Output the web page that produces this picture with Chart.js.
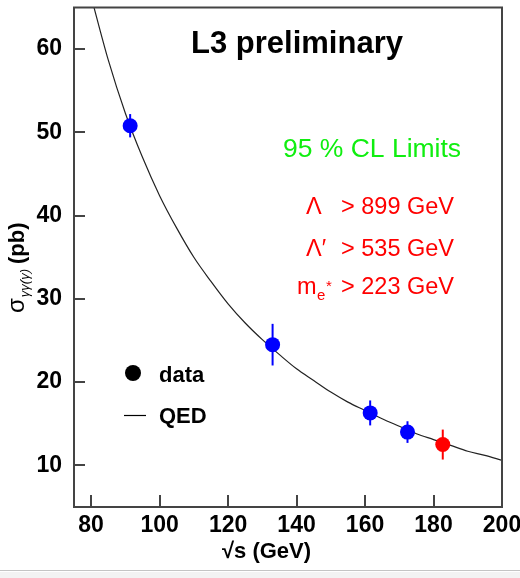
<!DOCTYPE html>
<html>
<head>
<meta charset="utf-8">
<script src="https://cdn.jsdelivr.net/npm/chart.js@4.4.1/dist/chart.umd.min.js"></script>
<style>
  html, body { margin: 0; padding: 0; background: #fff; }
</style>
</head>
<body>
<canvas id="xsec" width="520" height="578"></canvas>
<script>
// e+e- -> gamma gamma(gamma): sqrt(s) in GeV, cross section and error in pb
const energies    = [91.4, 133.0, 161.5, 172.4, 182.7];
const sigma       = [50.8, 24.5, 16.3, 14.0, 12.5];
const sigmaErr    = [1.4, 2.5, 1.5, 1.3, 1.8];
const pointColors = ["#0000ff", "#0000ff", "#0000ff", "#0000ff", "#ff0000"];

// QED expectation
const qedEnergy = [80, 85, 90, 95, 100, 105, 110, 115, 120, 125, 130, 135, 140,
                   145, 150, 155, 160, 165, 170, 175, 180, 185, 190, 195, 200];
const qedSigma  = [66.3, 58.7, 52.3, 47.0, 42.4, 38.5, 35.0, 32.1, 29.4, 27.1, 25.1, 23.3, 21.6,
                   20.2, 18.8, 17.6, 16.6, 15.6, 14.7, 13.8, 13.1, 12.4, 11.7, 11.2, 10.6];

const xTicks = [80, 100, 120, 140, 160, 180, 200];
const yTicks = [10, 20, 30, 40, 50, 60];

const fam = "'Liberation Sans', Arial, Helvetica, sans-serif";
const tickFont = { family: fam, size: 23, weight: "bold" };

const decor = {
  id: "decor",
  beforeDatasetsDraw(chart) {
    const { ctx, scales: { x, y } } = chart;
    // error bars under the markers
    ctx.save();
    ctx.lineWidth = 2;
    energies.forEach((e, i) => {
      const px = x.getPixelForValue(e);
      ctx.strokeStyle = pointColors[i];
      ctx.beginPath();
      ctx.moveTo(px, y.getPixelForValue(sigma[i] - sigmaErr[i]));
      ctx.lineTo(px, y.getPixelForValue(sigma[i] + sigmaErr[i]));
      ctx.stroke();
    });
    ctx.restore();
  },
  afterDraw(chart) {
    const { ctx, chartArea: a, scales: { x, y } } = chart;
    ctx.save();

    // frame + inward ticks
    ctx.strokeStyle = "#444";
    ctx.lineWidth = 2;
    ctx.strokeRect(a.left, a.top, a.right - a.left, a.bottom - a.top);
    ctx.beginPath();
    xTicks.forEach(v => {
      const px = Math.round(x.getPixelForValue(v));
      ctx.moveTo(px, a.bottom);
      ctx.lineTo(px, a.bottom - 12);
    });
    yTicks.forEach(v => {
      const py = Math.round(y.getPixelForValue(v));
      ctx.moveTo(a.left, py);
      ctx.lineTo(a.left + 11, py);
    });
    ctx.stroke();

    ctx.textBaseline = "alphabetic";
    ctx.fillStyle = "#000";

    // title
    ctx.textAlign = "center";
    ctx.font = `bold 31px ${fam}`;
    ctx.fillText("L3 preliminary", 297, 53);

    // limits
    ctx.fillStyle = "#10ee10";
    ctx.font = `26.5px ${fam}`;
    ctx.fillText("95 % CL Limits", 372, 157);

    ctx.fillStyle = "#ff0000";
    ctx.textAlign = "left";
    ctx.font = `23.5px ${fam}`;
    ctx.fillText("\u039B", 306, 214);
    ctx.fillText("> 899 GeV", 341, 214);
    ctx.fillText("\u039B\u2032", 306, 256);
    ctx.fillText("> 535 GeV", 341, 256);
    ctx.fillText("m", 297, 294);
    ctx.font = `15px ${fam}`;
    ctx.fillText("e", 317, 300);
    ctx.fillText("*", 326, 291);
    ctx.font = `23.5px ${fam}`;
    ctx.fillText("> 223 GeV", 341, 294);

    // legend
    ctx.fillStyle = "#000";
    ctx.beginPath();
    ctx.arc(133, 373, 8, 0, Math.PI * 2);
    ctx.fill();
    ctx.strokeStyle = "#000";
    ctx.lineWidth = 1.2;
    ctx.beginPath();
    ctx.moveTo(124, 415.5);
    ctx.lineTo(146, 415.5);
    ctx.stroke();
    ctx.font = `bold 22px ${fam}`;
    ctx.fillText("data", 159, 382);
    ctx.fillText("QED", 159, 423);

    // axis titles
    ctx.fillText("\u221As (GeV)", 222, 558);

    ctx.translate(24, 313);
    ctx.rotate(-Math.PI / 2);
    ctx.font = `24px ${fam}`;
    ctx.fillText("\u03C3", 0, 0);
    let w = ctx.measureText("\u03C3").width + 1;
    ctx.font = `italic 13px ${fam}`;
    ctx.fillText("\u03B3\u03B3(\u03B3)", w, 5);
    w += ctx.measureText("\u03B3\u03B3(\u03B3)").width + 5;
    ctx.font = `bold 22px ${fam}`;
    ctx.fillText("(pb)", w, 0);
    ctx.restore();

    // window edge below the plot
    ctx.save();
    ctx.fillStyle = "#f3f3f3";
    ctx.fillRect(0, 572, 520, 6);
    ctx.strokeStyle = "#c4c4c4";
    ctx.lineWidth = 1;
    ctx.beginPath();
    ctx.moveTo(0, 570.5);
    ctx.lineTo(520, 570.5);
    ctx.stroke();
    ctx.restore();
  }
};

new Chart(document.getElementById("xsec"), {
  type: "scatter",
  data: {
    datasets: [
      {
        label: "data",
        data: energies.map((e, i) => ({ x: e, y: sigma[i] })),
        pointRadius: 7.5,
        pointBackgroundColor: pointColors,
        pointBorderColor: pointColors,
        pointBorderWidth: 0,
        showLine: false
      },
      {
        label: "QED",
        data: qedEnergy.map((e, i) => ({ x: e, y: qedSigma[i] })),
        showLine: true,
        borderColor: "#222",
        borderWidth: 1.2,
        pointRadius: 0,
        cubicInterpolationMode: "monotone"
      }
    ]
  },
  options: {
    responsive: false,
    animation: false,
    events: [],
    layout: { padding: { top: 5, right: 18, left: 0, bottom: 0 } },
    plugins: { legend: { display: false }, tooltip: { enabled: false } },
    scales: {
      x: {
        type: "linear", min: 75, max: 200,
        grid: { display: false, drawTicks: false },
        border: { display: false },
        afterBuildTicks: s => { s.ticks = xTicks.map(v => ({ value: v })); },
        afterFit: s => { s.height = 71; s.paddingLeft = 0; s.paddingRight = 0; },
        ticks: { font: tickFont, color: "#000", padding: 5, maxRotation: 0, autoSkip: false }
      },
      y: {
        type: "linear", min: 5, max: 65,
        grid: { display: false, drawTicks: false },
        border: { display: false },
        afterBuildTicks: s => { s.ticks = yTicks.map(v => ({ value: v })); },
        afterFit: s => { s.width = 74; s.paddingTop = 0; s.paddingBottom = 0; },
        ticks: { font: tickFont, color: "#000", padding: 12, autoSkip: false }
      }
    }
  },
  plugins: [decor]
});
</script>
</body>
</html>
